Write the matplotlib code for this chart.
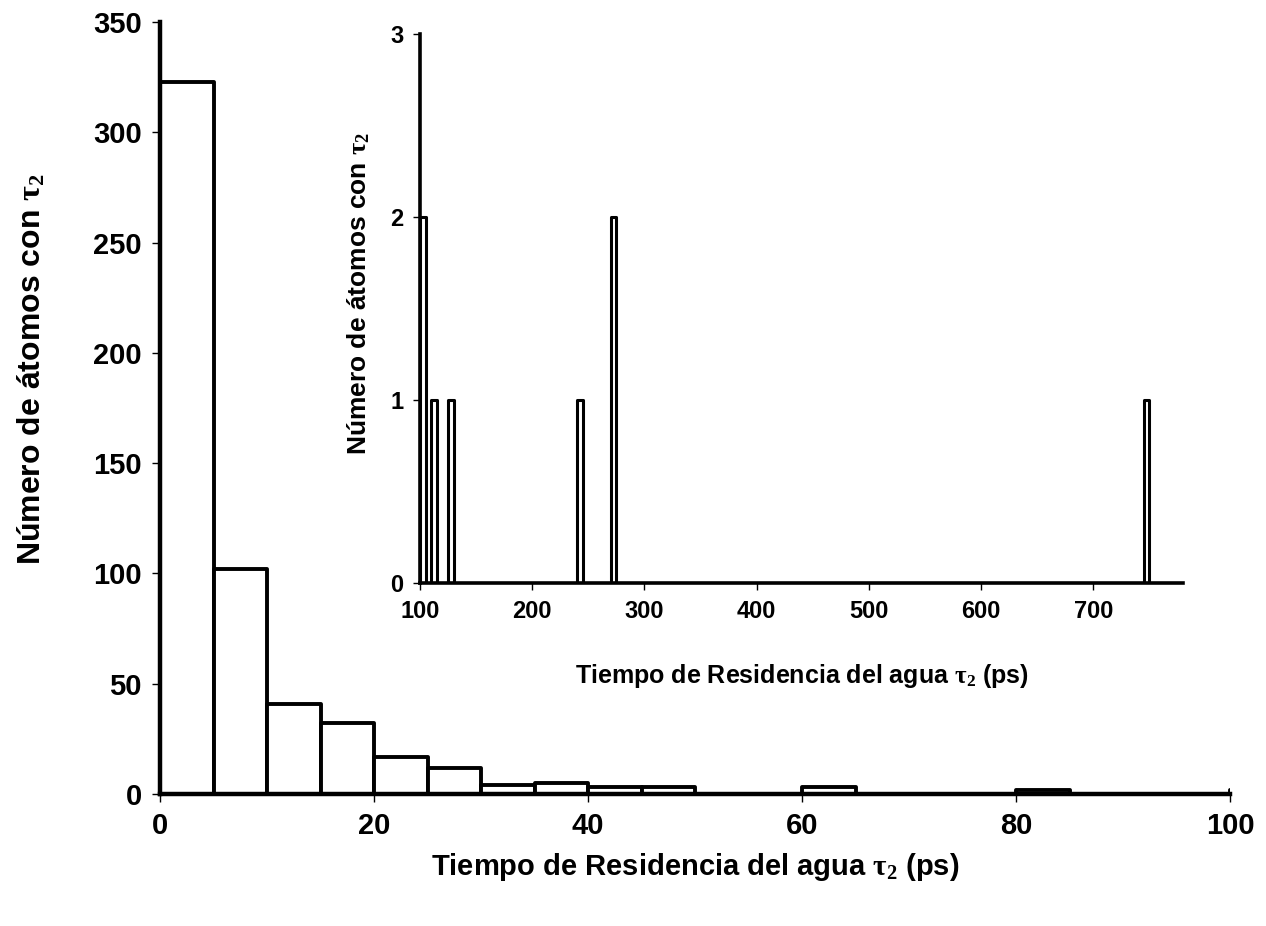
import matplotlib.pyplot as plt

plt.rcParams['font.family'] = ['Liberation Sans', 'DejaVu Sans']
plt.rcParams['font.weight'] = 'bold'
plt.rcParams['mathtext.fontset'] = 'custom'
plt.rcParams['mathtext.rm'] = 'Liberation Serif'
plt.rcParams['mathtext.it'] = 'Liberation Serif'

# main histogram: 5 ps bins from 0 to 100
main_left = [0, 5, 10, 15, 20, 25, 30, 35, 40, 45, 50, 55, 60, 65, 70, 75, 80, 85, 90, 95, 100]
main_count = [323, 102, 41, 32, 17, 12, 4, 5, 3, 3, 0, 0, 3, 0, 0, 0, 2, 0, 0, 0, 2]
main_xticks = [0, 20, 40, 60, 80, 100]
main_yticks = [0, 50, 100, 150, 200, 250, 300, 350]

# inset: long residence times (> 100 ps)
inset_left = [100, 110, 125, 240, 270, 745]
inset_count = [2, 1, 1, 1, 2, 1]
inset_xticks = [100, 200, 300, 400, 500, 600, 700]
inset_yticks = [0, 1, 2, 3]

fig = plt.figure(figsize=(12.66, 9.26), dpi=100)

ax = fig.add_axes([0.1264, 0.1425, 0.8452, 0.8337])
ax.bar(main_left, main_count, width=5, align='edge', facecolor='white',
       edgecolor='black', linewidth=2.8, joinstyle='round')
ax.set_xlim(0, 100)
ax.set_ylim(0, 350)
ax.set_xticks(main_xticks)
ax.set_yticks(main_yticks)
for s in ['top', 'right']:
    ax.spines[s].set_visible(False)
for s in ['left', 'bottom']:
    ax.spines[s].set_linewidth(3.2)
ax.tick_params(direction='out', length=6, width=1, labelsize=21, pad=7)
ax.set_xlabel(r'Tiempo de Residencia del agua $\mathrm{\tau_2}$ (ps)', fontsize=21,
              fontweight='bold', labelpad=8)
ax.set_ylabel(r'Número de átomos con $\mathrm{\tau_2}$', fontsize=23,
              fontweight='bold')
ax.yaxis.set_label_coords(-0.105, 0.55)

ins = fig.add_axes([0.3318, 0.3704, 0.6026, 0.5929])
ins.bar(inset_left, inset_count, width=5, align='edge', facecolor='white',
        edgecolor='black', linewidth=2.2, joinstyle='round')
ins.set_xlim(100, 780)
ins.set_ylim(0, 3)
ins.set_xticks(inset_xticks)
ins.set_yticks(inset_yticks)
ins.patch.set_alpha(0)
for s in ['top', 'right']:
    ins.spines[s].set_visible(False)
for s in ['left', 'bottom']:
    ins.spines[s].set_linewidth(2.6)
ins.tick_params(direction='out', length=5, width=1, labelsize=17, pad=7)
ins.set_xlabel(r'Tiempo de Residencia del agua $\mathrm{\tau_2}$ (ps)', fontsize=18,
               fontweight='bold', labelpad=28)
ins.set_ylabel(r'Número de átomos con $\mathrm{\tau_2}$', fontsize=19,
               fontweight='bold')
ins.yaxis.set_label_coords(-0.063, 0.528)

fig.savefig('out.png', dpi=100)
